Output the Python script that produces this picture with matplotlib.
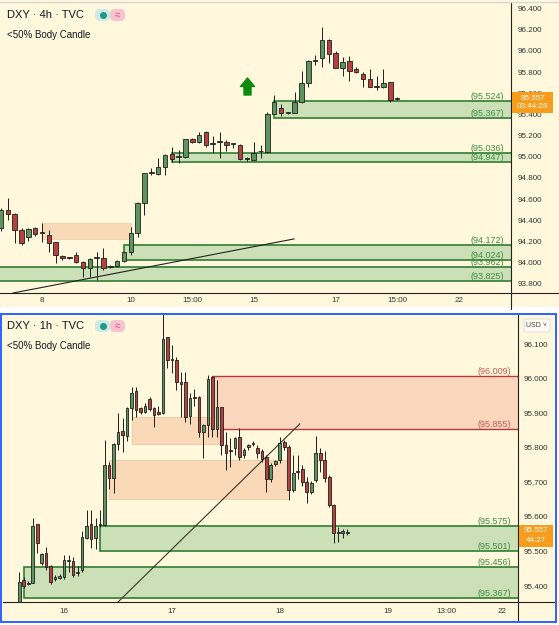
import numpy as np
import matplotlib.pyplot as plt
from matplotlib.patches import Rectangle, FancyBboxPatch
from matplotlib.lines import Line2D
from matplotlib.path import Path

plt.rcParams['font.family'] = ['Liberation Sans', 'DejaVu Sans']

W, H = 559, 625
BG = "#FFF8DC"
UP = "#5E9460"
DOWN = "#B5423F"
EDGE = "#1E1E1E"

# ---------------- 4h panel data ----------------
h4_open = [94.33, 94.498, 94.46, 94.309, 94.243, 94.328, 94.285, 94.262, 94.196, 94.064,
           94.047, 94.074, 94.008, 93.951, 94.045, 94.045, 93.96, 93.97, 94.017, 94.102,
           94.281, 94.564, 94.85, 94.838, 94.904, 95.026, 94.998, 95.0, 95.17, 95.14,
           95.234, 95.13, 95.14, 95.14, 95.12, 95.11, 94.98, 94.97, 95.05, 95.045,
           95.40, 95.46, 95.413, 95.413, 95.517, 95.696, 95.904, 95.932, 96.102, 95.98,
           95.838, 95.904, 95.828, 95.78, 95.734, 95.66, 95.66, 95.706, 95.545]
h4_close = [94.50, 94.46, 94.309, 94.187, 94.319, 94.272, 94.28, 94.187, 94.074, 94.045,
            94.045, 94.008, 93.951, 94.036, 94.047, 93.951, 93.962, 94.017, 94.102, 94.281,
            94.564, 94.847, 94.855, 94.904, 95.017, 94.98, 95.0, 95.17, 95.14, 95.21,
            95.11, 95.12, 95.139, 95.11, 95.12, 94.98, 94.978, 95.04, 95.055, 95.40,
            95.517, 95.41, 95.413, 95.517, 95.696, 95.904, 95.908, 96.102, 95.97, 95.838,
            95.894, 95.81, 95.8, 95.734, 95.66, 95.658, 95.696, 95.536, 95.557]
h4_high = [94.52, 94.611, 94.47, 94.33, 94.328, 94.338, 94.375, 94.309, 94.2, 94.074,
           94.055, 94.102, 94.017, 94.045, 94.102, 94.14, 93.975, 94.03, 94.11, 94.338,
           94.574, 94.85, 94.894, 94.99, 95.03, 95.09, 95.064, 95.17, 95.18, 95.23,
           95.24, 95.2, 95.234, 95.16, 95.13, 95.12, 95.0, 95.14, 95.11, 95.42,
           95.58, 95.5, 95.42, 95.61, 95.81, 95.913, 95.96, 96.225, 96.11, 96.0,
           95.94, 95.95, 95.847, 95.8, 95.83, 95.762, 95.83, 95.71, 95.565]
h4_low = [94.30, 94.404, 94.187, 94.168, 94.206, 94.253, 94.196, 94.102, 93.998, 94.026,
          94.036, 93.998, 93.866, 93.866, 93.838, 93.93, 93.95, 93.96, 94.01, 94.074,
          94.243, 94.45, 94.83, 94.83, 94.83, 94.95, 94.94, 94.99, 95.13, 95.13,
          95.09, 95.04, 94.99, 95.05, 95.085, 94.97, 94.96, 94.97, 94.99, 95.035,
          95.40, 95.385, 95.405, 95.41, 95.51, 95.66, 95.866, 95.847, 95.885, 95.838,
          95.762, 95.715, 95.79, 95.66, 95.655, 95.63, 95.65, 95.517, 95.54]
h4_ticks = [6, 19, 28, 37, 49, 58, 67]
h4_ticklabels = ["8", "10", "15:00", "15", "17", "15:00", "22"]
h4_yticks = [93.8, 94.0, 94.2, 94.4, 94.6, 94.8, 95.0, 95.2, 95.4, 95.6, 95.8, 96.0, 96.2, 96.4]

h4_green_lo = [95.367, 94.947, 94.024, 93.825]
h4_green_hi = [95.524, 95.036, 94.172, 93.962]
h4_green_start = [40, 25, 18, -1]
h4_peach_lo = [94.225]
h4_peach_hi = [94.375]
h4_peach_start = [6]
h4_peach_end = [19]
h4_trend_x = [1.76, 42.9]
h4_trend_y = [93.715, 94.225]
h4_arrow_x = 36
h4_arrow_y = 95.67

# ---------------- 1h panel data ----------------
h1_open = [95.33, 95.417, 95.405, 95.41, 95.579, 95.467, 95.497, 95.458, 95.42, 95.424,
           95.425, 95.473, 95.473, 95.438, 95.446, 95.539, 95.579, 95.539, 95.576, 95.576,
           95.75, 95.712, 95.811, 95.848, 95.834, 95.915, 95.964, 95.915, 95.903, 95.941,
           95.915, 95.903, 95.90, 96.12, 96.056, 96.054, 95.99, 95.99, 95.892, 95.947,
           95.947, 95.845, 95.866, 96.004, 95.854, 95.918, 95.808, 95.795, 95.799, 95.831,
           95.779, 95.802, 95.81, 95.799, 95.791, 95.773, 95.71, 95.753, 95.764, 95.817,
           95.802, 95.678, 95.733, 95.738, 95.701, 95.672, 95.707, 95.785, 95.764, 95.715,
           95.634, 95.556, 95.553, 95.554]
h1_close = [95.412, 95.40, 95.409, 95.574, 95.524, 95.493, 95.455, 95.412, 95.426, 95.428,
            95.475, 95.476, 95.432, 95.442, 95.542, 95.574, 95.536, 95.574, 95.579, 95.75,
            95.712, 95.811, 95.845, 95.837, 95.915, 95.958, 95.909, 95.903, 95.921, 95.912,
            95.895, 95.898, 96.114, 96.054, 96.054, 95.99, 95.984, 95.889, 95.944, 95.944,
            95.845, 95.866, 95.998, 95.854, 95.918, 95.808, 95.785, 95.792, 95.828, 95.773,
            95.793, 95.808, 95.813, 95.785, 95.767, 95.71, 95.75, 95.762, 95.814, 95.802,
            95.678, 95.727, 95.73, 95.701, 95.672, 95.698, 95.785, 95.764, 95.712, 95.634,
            95.553, 95.553, 95.56, 95.557]
h1_high = [95.441, 95.426, 95.415, 95.597, 95.58, 95.497, 95.513, 95.46, 95.432, 95.434,
           95.49, 95.49, 95.485, 95.457, 95.56, 95.62, 95.62, 95.597, 95.62, 95.822,
           95.76, 95.814, 95.90, 95.886, 95.918, 95.976, 95.976, 95.918, 95.929, 95.947,
           95.918, 95.92, 96.22, 96.12, 96.097, 96.062, 96.019, 96.019, 95.958, 95.97,
           95.95, 95.87, 96.01, 96.009, 95.995, 95.918, 95.845, 95.828, 95.831, 95.857,
           95.80, 95.812, 95.82, 95.808, 95.797, 95.779, 95.756, 95.766, 95.831, 95.822,
           95.808, 95.779, 95.779, 95.75, 95.716, 95.705, 95.834, 95.80, 95.79, 95.72,
           95.636, 95.57, 95.566, 95.565]
h1_low = [95.30, 95.394, 95.402, 95.408, 95.495, 95.46, 95.446, 95.405, 95.414, 95.42,
          95.42, 95.44, 95.426, 95.43, 95.44, 95.536, 95.51, 95.507, 95.57, 95.573,
          95.68, 95.67, 95.793, 95.788, 95.82, 95.88, 95.89, 95.898, 95.90, 95.905,
          95.86, 95.895, 95.898, 96.031, 96.016, 95.967, 95.889, 95.874, 95.87, 95.92,
          95.83, 95.77, 95.83, 95.83, 95.83, 95.78, 95.735, 95.744, 95.779, 95.764,
          95.77, 95.795, 95.805, 95.77, 95.76, 95.672, 95.70, 95.748, 95.757, 95.795,
          95.649, 95.672, 95.71, 95.69, 95.64, 95.665, 95.70, 95.73, 95.70, 95.63,
          95.524, 95.527, 95.54, 95.548]
h1_ticks = [10, 34, 58, 82, 95, 107.3]
h1_ticklabels = ["16", "17", "18", "19", "13:00", "22"]
h1_yticks = [95.4, 95.5, 95.6, 95.7, 95.8, 95.9, 96.0, 96.1]

h1_green_lo = [95.501, 95.367]
h1_green_hi = [95.575, 95.456]
h1_green_start = [18, 1]
h1_red_lo = [95.855]
h1_red_hi = [96.009]
h1_red_start = [43]
h1_peach_lo = [95.810, 95.652]
h1_peach_hi = [95.889, 95.764]
h1_peach_start = [25, 20]
h1_peach_end = [45, 60]
h1_trend_x = [22, 62.4]
h1_trend_y = [95.354, 95.869]

last_price = "95.557"


def fx(x):
    return x / W


def fy(y):
    return 1 - y / H


def draw_candles(ax, o, h, l, c, width, minh):
    o, h, l, c = map(np.array, (o, h, l, c))
    x = np.arange(len(o))
    cols = np.where(c >= o, UP, DOWN)
    ax.vlines(x, l, h, color=EDGE, linewidth=0.7, zorder=3)
    body = np.maximum(np.abs(c - o), minh)
    ax.bar(x, body, width, bottom=np.minimum(o, c), color=cols,
           edgecolor=EDGE, linewidth=0.6, zorder=4)


def zone(ax, lo, hi, start, end, face, edge, lw):
    r = Rectangle((start, lo), end - start, hi - lo, facecolor=face,
                  edgecolor=edge, linewidth=lw, zorder=1)
    ax.add_patch(r)


def zone_label(ax, val, color, xr):
    ax.text(xr, val, "(%.3f)" % val, transform=ax.get_yaxis_transform(),
            ha="right", va="bottom", fontsize=6.5, color=color, zorder=5)


def style_axis(ax, xlim, ylim, yticks, xticks, xlabels, ypad, xpad):
    ax.set_facecolor(BG)
    ax.set_xlim(*xlim)
    ax.set_ylim(*ylim)
    ax.yaxis.tick_right()
    ax.set_yticks(yticks)
    ax.set_yticklabels(["%.3f" % v for v in yticks])
    ax.set_xticks(xticks)
    ax.set_xticklabels(xlabels)
    ax.tick_params(axis="y", length=0, pad=ypad, labelsize=5.8, labelcolor="#333333")
    ax.tick_params(axis="x", length=0, pad=xpad, labelsize=5.8, labelcolor="#333333")
    for s in ["left", "top"]:
        ax.spines[s].set_visible(False)
    for s in ["right", "bottom"]:
        ax.spines[s].set_color("#222222")
        ax.spines[s].set_linewidth(0.8)


fig = plt.figure(figsize=(W / 100, H / 100), dpi=100)
fig.patch.set_facecolor(BG)

# white gaps between the panels
fig.add_artist(Rectangle((0, fy(313)), 1, fy(307) - fy(313), transform=fig.transFigure,
                         facecolor="white", edgecolor="none", zorder=0))
fig.add_artist(Rectangle((0, 0), 1, fy(622), transform=fig.transFigure,
                         facecolor="white", edgecolor="none", zorder=0))

# ---------------- top 4h panel ----------------
ax1 = fig.add_axes([fx(0), fy(293), fx(511), fy(3) - fy(293)])
style_axis(ax1, (-0.15, 74.67), (93.715, 96.451), h4_yticks, h4_ticks, h4_ticklabels, 5, 3)

for lo, hi, st in zip(h4_green_lo, h4_green_hi, h4_green_start):
    zone(ax1, lo, hi, st, 100, "#CCE0B8", "#2F7D32", 1.2)
    zone_label(ax1, hi, "#3E8E41", 0.986)
    zone_label(ax1, lo, "#3E8E41", 0.986)
for lo, hi, st, en in zip(h4_peach_lo, h4_peach_hi, h4_peach_start, h4_peach_end):
    zone(ax1, lo, hi, st, en, "#F9D9B8", "#F2CBA5", 0.5)

ax1.plot(h4_trend_x, h4_trend_y, color="#222222", linewidth=0.8, zorder=2)
draw_candles(ax1, h4_open, h4_high, h4_low, h4_close, 0.66, 0.008)

arrow = Path([(-7, 0), (0, 8.5), (7, 0), (3.5, 0), (3.5, -8.5), (-3.5, -8.5), (-3.5, 0), (-7, 0)],
             [Path.MOVETO] + [Path.LINETO] * 6 + [Path.CLOSEPOLY])
ax1.scatter([h4_arrow_x], [h4_arrow_y], marker=arrow, s=150, color="#0B8A0B", zorder=5)

# ---------------- bottom 1h panel ----------------
ax2 = fig.add_axes([fx(3), fy(602), fx(515), fy(315) - fy(602)])
style_axis(ax2, (-3.56, 110.9), (95.354, 96.184), h1_yticks, h1_ticks, h1_ticklabels, 4.3, 4.5)

for lo, hi, st in zip(h1_green_lo, h1_green_hi, h1_green_start):
    zone(ax2, lo, hi, st, 200, "#CCE0B8", "#2F7D32", 1.2)
    zone_label(ax2, hi, "#3E8E41", 0.986)
    zone_label(ax2, lo, "#3E8E41", 0.986)
for lo, hi, st in zip(h1_red_lo, h1_red_hi, h1_red_start):
    zone(ax2, lo, hi, st, 200, "#F9D6BC", "#B33B3B", 1.0)
    zone_label(ax2, hi, "#C65A5A", 0.986)
    zone_label(ax2, lo, "#C65A5A", 0.986)
for lo, hi, st, en in zip(h1_peach_lo, h1_peach_hi, h1_peach_start, h1_peach_end):
    zone(ax2, lo, hi, st, en, "#F9D9B8", "#EAC8A6", 0.6)

ax2.plot(h1_trend_x, h1_trend_y, color="#3A3228", linewidth=0.8, zorder=2)
draw_candles(ax2, h1_open, h1_high, h1_low, h1_close, 0.66, 0.003)

# axis line extensions into the price scale area
for (x0, y0, x1, y1) in [(511, 293, 559, 293), (511, 293, 511, 309),
                         (518, 602, 556, 602), (518, 602, 518, 621)]:
    fig.add_artist(Line2D([fx(x0), fx(x1)], [fy(y0), fy(y1)], color="#222222",
                          linewidth=0.8, transform=fig.transFigure))
fig.add_artist(Line2D([0, 1], [fy(1.5), fy(1.5)], color="#D8D8D8", linewidth=1.0,
                      transform=fig.transFigure))

# blue border around the active 1h panel
fig.add_artist(Rectangle((fx(1.5), fy(621.5)), fx(556) - fx(1.5), fy(313.5) - fy(621.5),
                         transform=fig.transFigure, facecolor="none",
                         edgecolor="#2962FF", linewidth=1.4, zorder=10))

# headers
for y0, tf in [(15, "4h"), (326, "1h")]:
    fig.text(fx(7), fy(y0), "DXY · %s · TVC" % tf, fontsize=8, color="#131722", va="center")
    fig.text(fx(7), fy(y0 + 20), "<50% Body Candle", fontsize=7, color="#131722", va="center")
    fig.add_artist(FancyBboxPatch((fx(95), fy(y0 + 6)), fx(15), fy(y0 - 6) - fy(y0 + 6),
                                  boxstyle="round,pad=0,rounding_size=0.008",
                                  transform=fig.transFigure, facecolor="#CDEBE4", edgecolor="none"))
    fig.add_artist(FancyBboxPatch((fx(110), fy(y0 + 6)), fx(15), fy(y0 - 6) - fy(y0 + 6),
                                  boxstyle="round,pad=0,rounding_size=0.008",
                                  transform=fig.transFigure, facecolor="#F6C3CF", edgecolor="none"))
    fig.add_artist(Line2D([fx(103)], [fy(y0)], marker="o", markersize=4, color="#1E9A84",
                          transform=fig.transFigure))
    fig.text(fx(117), fy(y0), "≈", fontsize=7, color="#E0507A", ha="center", va="center")

# last price boxes
for (x0, y0, x1, y1, sub) in [(512, 92, 553, 113, "03:44:28"), (519, 525, 553, 547, "44:27")]:
    fig.add_artist(Rectangle((fx(x0), fy(y1)), fx(x1 - x0), fy(y0) - fy(y1),
                             transform=fig.transFigure, facecolor="#F89C1C",
                             edgecolor="none", zorder=11))
    fig.text(fx((x0 + x1) / 2), fy(y0 + 6), last_price, fontsize=5.8, color="white",
             ha="center", va="center", zorder=12)
    fig.text(fx((x0 + x1) / 2), fy(y0 + 15), sub, fontsize=5.8, color="white",
             ha="center", va="center", zorder=12)

# currency button
fig.add_artist(FancyBboxPatch((fx(524), fy(332)), fx(26), fy(319) - fy(332),
                              boxstyle="round,pad=0,rounding_size=0.004",
                              transform=fig.transFigure, facecolor="#FFFDF6",
                              edgecolor="#D9D9D9", linewidth=0.6, zorder=11))
fig.text(fx(537), fy(325.5), "USD ˅", fontsize=5, color="#444444", ha="center",
         va="center", zorder=12)

fig.savefig("out.png", dpi=100, facecolor=fig.get_facecolor())
